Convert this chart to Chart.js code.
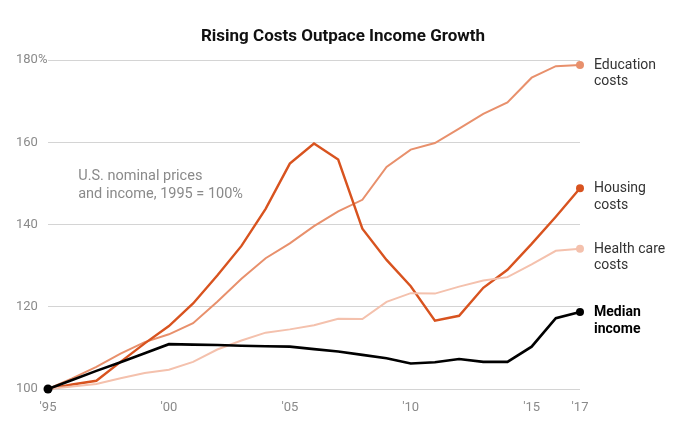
<!DOCTYPE html>
<html>
<head>
<meta charset="utf-8">
<script src="https://cdn.jsdelivr.net/npm/chart.js@4/dist/chart.umd.min.js"></script>
<style>
  html, body { margin: 0; padding: 0; background: #ffffff; }
  #wrap { width: 680px; height: 426px; position: relative; }
</style>
</head>
<body>
<div id="wrap"><canvas id="c" width="680" height="426"></canvas></div>
<script>
// ---- data ----
const years = [1995, 1996, 1997, 1998, 1999, 2000, 2001, 2002, 2003, 2004, 2005, 2006,
               2007, 2008, 2009, 2010, 2011, 2012, 2013, 2014, 2015, 2016, 2017];
const educationCosts = [100, 102.6, 105.4, 108.6, 111.4, 113.3, 116.0, 121.2, 126.8, 131.8, 135.4, 139.6,
                        143.2, 146.0, 154.0, 158.2, 159.8, 163.3, 166.9, 169.7, 175.7, 178.5, 178.8];
const housingCosts = [100, 101.1, 102.0, 106.6, 111.1, 115.3, 120.8, 127.6, 134.8, 143.8, 154.8, 159.7,
                      155.8, 139.0, 131.4, 125.0, 116.6, 117.8, 124.6, 129.0, 135.3, 141.9, 148.8];
const healthCareCosts = [100, 100.6, 101.2, 102.6, 103.9, 104.7, 106.6, 109.6, 111.8, 113.7, 114.5, 115.5,
                         117.1, 117.0, 121.2, 123.3, 123.2, 124.9, 126.4, 127.2, 130.3, 133.6, 134.1];
const medianIncome = [100, 102.2, 104.4, 106.5, 108.7, 110.9, 110.8, 110.7, 110.5, 110.4, 110.3, 109.7,
                      109.1, 108.3, 107.5, 106.2, 106.5, 107.3, 106.6, 106.6, 110.3, 117.2, 118.7];

const xTickValues = [1995, 2000, 2005, 2010, 2015, 2017];
const xTickLabels = ["'95", "'00", "'05", "'10", "'15", "'17"];
const yTickValues = [100, 120, 140, 160, 180];
const yTickLabels = ["100", "120", "140", "160", "180%"];

const titleText = "Rising Costs Outpace Income Growth";
const noteLines = ["U.S. nominal prices", "and income, 1995 = 100%"];
const seriesLabels = [["Education", "costs"], ["Housing", "costs"], ["Health care", "costs"], ["Median", "income"]];

// ---- styles ----
const FONT = "Roboto, 'Liberation Sans', sans-serif";
const colors = ["#e8906c", "#d8531f", "#f4c1ad", "#000000"];
const widths = [2, 2.4, 2, 2.6];
const labelColors = ["#333333", "#333333", "#333333", "#000000"];
const labelWeights = ["400", "400", "400", "700"];

function toPoints(vals) { return years.map((y, i) => ({ x: y, y: vals[i] })); }
const seriesData = [educationCosts, housingCosts, healthCareCosts, medianIncome];

const datasets = seriesData.map((vals, k) => ({
  data: toPoints(vals),
  borderColor: colors[k],
  backgroundColor: colors[k],
  borderWidth: widths[k],
  pointRadius: (ctx) => {
    const last = vals.length - 1;
    if (ctx.dataIndex === last) return 4;
    if (k === 3 && ctx.dataIndex === 0) return 4.5;
    return 0;
  },
  pointHoverRadius: 0,
  pointBorderWidth: 0,
  tension: 0,
  clip: false,
  order: 4 - k
}));

const labelsPlugin = {
  id: 'labelsPlugin',
  afterDatasetsDraw(chart) {
    const ctx = chart.ctx;
    const xs = chart.scales.x, ys = chart.scales.y;
    ctx.save();
    // title
    ctx.font = "700 17px " + FONT;
    ctx.fillStyle = "#111111";
    ctx.textAlign = "center";
    ctx.textBaseline = "middle";
    ctx.fillText(titleText, 343, 37);
    // note
    ctx.font = "400 14.5px " + FONT;
    ctx.fillStyle = "#8a8a8a";
    ctx.textAlign = "left";
    const nx = xs.getPixelForValue(1996.25);
    const ny = ys.getPixelForValue(151.8);
    ctx.fillText(noteLines[0], nx, ny);
    ctx.fillText(noteLines[1], nx, ny + 18);
    // series end labels
    seriesData.forEach((vals, k) => {
      const last = vals.length - 1;
      const px = xs.getPixelForValue(years[last]) + 14;
      const py = ys.getPixelForValue(vals[last]) + 0.5;
      ctx.font = labelWeights[k] + " 14px " + FONT;
      ctx.fillStyle = labelColors[k];
      ctx.fillText(seriesLabels[k][0], px, py);
      ctx.fillText(seriesLabels[k][1], px, py + 16.5);
    });
    ctx.restore();
  }
};

new Chart(document.getElementById('c'), {
  type: 'line',
  data: { datasets },
  plugins: [labelsPlugin],
  options: {
    responsive: false,
    animation: false,
    events: [],
    layout: { padding: { left: 16, right: 100, top: 60, bottom: 11 } },
    plugins: {
      legend: { display: false },
      tooltip: { enabled: false },
      title: { display: false }
    },
    scales: {
      x: {
        type: 'linear',
        min: 1995,
        max: 2017,
        afterFit(scale) { scale.height = 26; },
        grid: { display: false, drawTicks: false },
        border: { display: false },
        afterBuildTicks(scale) { scale.ticks = xTickValues.map(v => ({ value: v })); },
        ticks: {
          color: "#8a8a8a",
          font: { family: FONT, size: 13 },
          padding: 11,
          maxRotation: 0,
          autoSkip: false,
          callback: (v) => xTickLabels[xTickValues.indexOf(v)]
        }
      },
      y: {
        type: 'linear',
        min: 100,
        max: 180,
        afterFit(scale) { scale.width = 32; },
        afterBuildTicks(scale) { scale.ticks = yTickValues.map(v => ({ value: v })); },
        grid: { color: "#d4d4d4", lineWidth: 1, drawTicks: false },
        border: { display: false },
        ticks: {
          color: "#8a8a8a",
          font: { family: FONT, size: 13 },
          crossAlign: 'far',
          padding: 0,
          callback: (v) => yTickLabels[yTickValues.indexOf(v)]
        }
      }
    }
  }
});
</script>
</body>
</html>
